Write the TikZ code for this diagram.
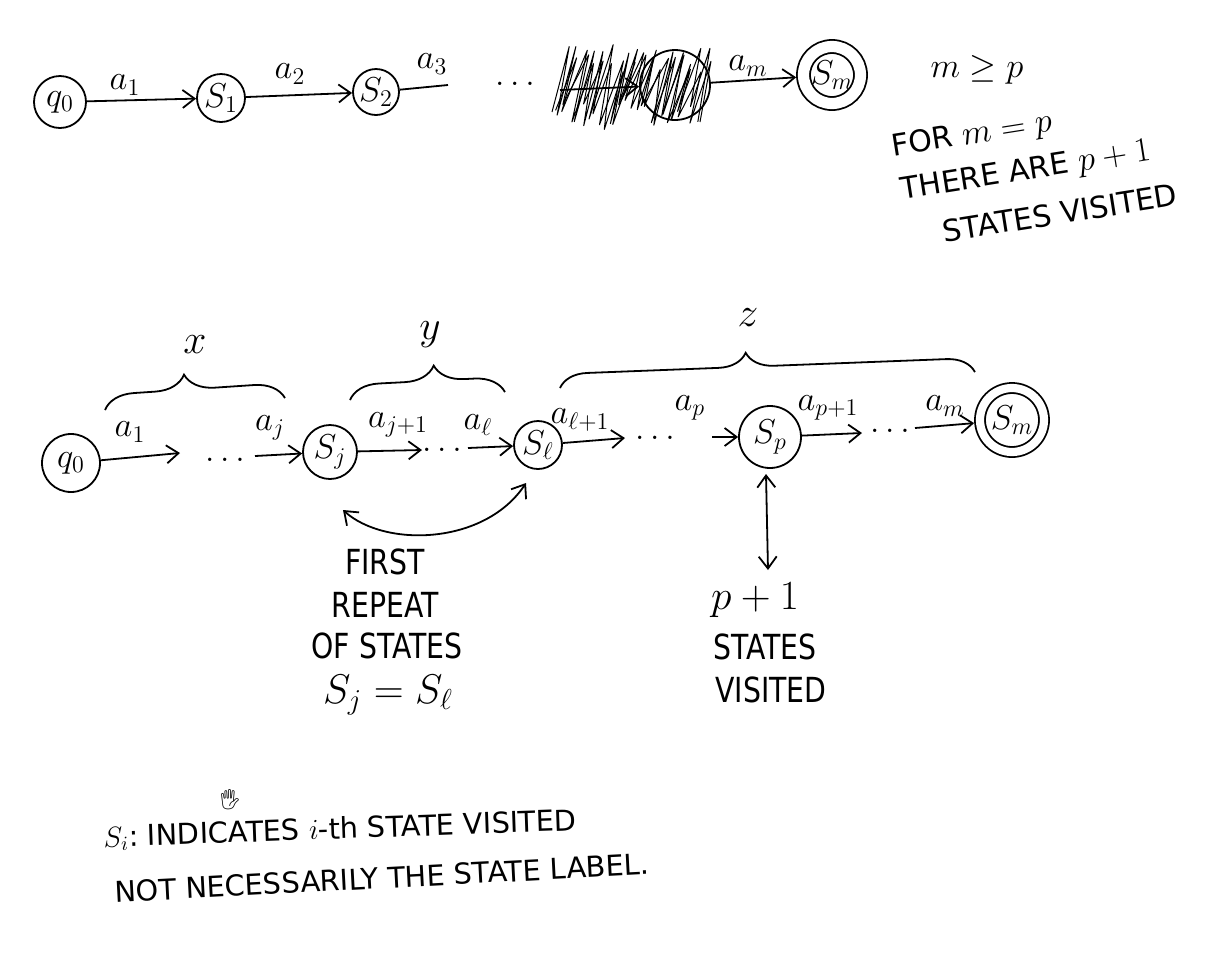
\documentclass[tikz,border=0pt]{standalone}
\usepackage{fontspec}
\setmainfont{DejaVu Sans}
\newfontfamily\emojifont{Noto Emoji}
\usetikzlibrary{arrows.meta,decorations.pathreplacing}
\begin{document}
\begin{tikzpicture}[x=0.5pt,y=-0.5pt,
  line width=0.9pt,
  st/.style={circle,draw,inner sep=0pt,minimum size=#1,font=\fontsize{17.28}{20}\selectfont},
  tr/.style={-{Straight Barb[length=6pt,width=9pt]}},
  dtr/.style={{Straight Barb[length=6pt,width=9pt]}-{Straight Barb[length=6pt,width=9pt]}},
  lab/.style={font=\fontsize{17.28}{20}\selectfont,inner sep=0pt},
  note/.style={font=\fontsize{15}{18}\selectfont,inner sep=0pt},
  big/.style={font=\fontsize{20.74}{24}\selectfont,inner sep=0pt},
  hw/.style={font=\fontsize{17.28}{20}\selectfont,inner sep=0pt,xscale=0.82},
  small/.style={font=\fontsize{14.4}{17}\selectfont,inner sep=0pt},
  brc/.style={decorate,decoration={brace,amplitude=#1}},
  scrib/.style={line width=0.5pt,line join=round},
]
\useasboundingbox (0,0) rectangle (1228,960);

% ---------- top row ----------
\node[st=26pt] (q0t) at (60,102) {$q_0$};
\node[st=24pt] (s1t) at (221,98) {$S_1$};
\node[st=23pt] (s2t) at (376,92) {$S_2$};
\node[st=35pt] (sxt) at (675,85) {};
\node[st=28.5pt,double,double distance=5.6pt,outer sep=3.7pt] (smt) at (832,75) {$S_m$};
\coordinate (e3) at (448,85);
\coordinate (e4) at (560,90);
\draw[tr] (q0t) -- (s1t);
\draw[tr] (s1t) -- (s2t);
\draw (s2t) -- (e3);
\draw[tr] (e4) -- (sxt);
\draw[tr] (sxt) -- (smt);
\node[lab] (la1t) at (125,85) {$a_1$};
\node[lab] (la2t) at (290,74) {$a_2$};
\node[lab] (la3t) at (432,64) {$a_3$};
\node[lab] (lamt) at (748,66) {$a_m$};
\node[lab] (dt) at (515,84) {$\ldots$};
% scribble over the crossed-out state
\pgfmathsetseed{7}
\draw[scrib] (552,112) foreach \i in {1,...,34} { -- ({548+4.4*\i+(mod(\i,2)==1 ? 14 : -4)+6*rnd},{mod(\i,2)==1 ? 44+22*rnd : 100+26*rnd}) };
\pgfmathsetseed{19}
\draw[scrib] (700,122) foreach \i in {1,...,30} { -- ({706-4.8*\i+(mod(\i,2)==1 ? 12 : -4)-6*rnd},{mod(\i,2)==1 ? 50+22*rnd : 102+28*rnd}) };

% notes top right
\node[lab] (mgep) at (977,70) {$m \geq p$};
\node[note,rotate=9] (for) at (972,136) {FOR {\fontsize{17.28}{20}\selectfont$m = p$}};
\node[note,rotate=9] (there) at (1026,172) {THERE ARE {\fontsize{17.28}{20}\selectfont$p+1$}};
\node[note,rotate=9] (sv) at (1060,213) {STATES VISITED};

% ---------- bottom row ----------
\node[st=29pt] (q0b) at (71,463) {$q_0$};
\node[st=27pt] (sj) at (330,452) {$S_j$};
\node[st=24pt] (sl) at (538,445) {$S_\ell$};
\node[st=31pt] (sp) at (770,437) {$S_p$};
\node[st=32pt,double,double distance=4.1pt,outer sep=3pt] (smb) at (1012,420) {$S_m$};
\coordinate (c1) at (180,453);
\coordinate (c2) at (255,456);
\coordinate (c3) at (422,450);
\coordinate (c4) at (468,448);
\coordinate (c5) at (625,438);
\coordinate (c6) at (712,437);
\coordinate (c7) at (862,433);
\coordinate (c8) at (915,428);
\draw[tr] (q0b) -- (c1);
\draw[tr] (c2) -- (sj);
\draw[tr] (sj) -- (c3);
\draw[tr] (c4) -- (sl);
\draw[tr] (sl) -- (c5);
\draw[tr] (c6) -- (sp);
\draw[tr] (sp) -- (c7);
\draw[tr] (c8) -- (smb);
\node[lab] (la1b) at (130,432) {$a_1$};
\node[lab] (d1) at (225,460) {$\ldots$};
\node[lab] (lajb) at (270,428) {$a_j$};
\node[lab] (laj1) at (398,425) {$a_{j+1}$};
\node[lab] (d2) at (442,450) {$\ldots$};
\node[lab] (lal) at (478,425) {$a_\ell$};
\node[lab] (lal1) at (580,420) {$a_{\ell+1}$};
\node[lab] (d3) at (655,438) {$\ldots$};
\node[lab] (lap) at (690,408) {$a_p$};
\node[lab] (lap1) at (828,408) {$a_{p+1}$};
\node[lab] (d4) at (890,431) {$\ldots$};
\node[lab] (lamb) at (945,406) {$a_m$};

% braces
\coordinate (bx1) at (105,410); \coordinate (bx2) at (285,398);
\coordinate (by1) at (350,400); \coordinate (by2) at (505,392);
\coordinate (bz1) at (560,388); \coordinate (bz2) at (975,372);
\draw[brc=15pt,decoration={aspect=0.45}] (bx1) -- (bx2);
\draw[brc=15pt,decoration={aspect=0.55}] (by1) -- (by2);
\draw[brc=14pt,decoration={aspect=0.45}] (bz1) -- (bz2);
\node[big] (lx) at (195,345) {$x$};
\node[big] (ly) at (430,335) {$y$};
\node[big] (lz) at (748,318) {$z$};

% repeat arrow
\coordinate (r1) at (343,510);
\coordinate (r2) at (526,483);
\draw[dtr] (r1) .. controls (385,548) and (485,545) .. (r2);
\node[hw] (first) at (385,562) {FIRST};
\node[hw] (repeat) at (385,605) {REPEAT};
\node[hw] (ofst) at (387,646) {OF STATES};
\node[big] (eq) at (388,695) {$S_j = S_\ell$};

% p+1 arrow
\coordinate (v1) at (766,474);
\coordinate (v2) at (768,570);
\draw[dtr] (v1) -- (v2);
\node[big] (pp1) at (755,600) {$p+1$};
\node[hw] (stv) at (765,647) {STATES};
\node[hw] (vis) at (771,690) {VISITED};

% bottom notes
\node[small,rotate=2] (n1) at (340,830) {$S_i$:\ INDICATES $i$-th STATE VISITED};
\node[small,rotate=3] (n2) at (382,878) {NOT NECESSARILY THE STATE LABEL.};
\node[inner sep=0pt,font=\emojifont\fontsize{10}{11}\selectfont] (hand) at (230,800) {🖐};
\end{tikzpicture}
\end{document}
